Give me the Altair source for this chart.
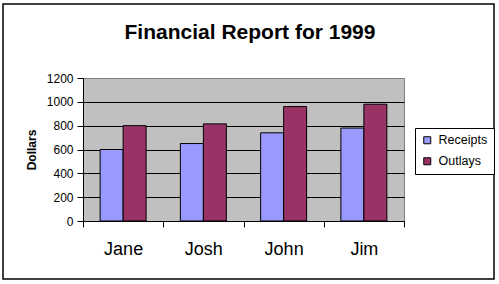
import altair as alt
import pandas as pd

title_text = ["Financial Report for 1999"]
names = ["Jane", "Josh", "John", "Jim"]
receipts = [600, 650, 740, 780]
outlays = [800, 815, 960, 980]
series = ["Receipts", "Outlays"]
colors = ["#9999FF", "#993366"]
y_ticks = [0, 200, 400, 600, 800, 1000, 1200]

rows = []
for n, r, o in zip(names, receipts, outlays):
    rows.append({"Name": n, "Series": "Receipts", "Value": r})
    rows.append({"Name": n, "Series": "Outlays", "Value": o})
df = pd.DataFrame(rows)

FONT = "Liberation Sans"
W, H = 321, 143

bars = alt.Chart(df).mark_bar(stroke="black", strokeWidth=1).encode(
    x=alt.X("Name:N", sort=names,
            scale=alt.Scale(paddingInner=0, paddingOuter=0),
            axis=alt.Axis(title=None, labelAngle=0, labelFontSize=18, labelFont=FONT,
                          labelColor="black", tickBand="extent", tickColor="black",
                          tickSize=6, domainColor="black", labelPadding=13, grid=False)),
    xOffset=alt.XOffset("Series:N", sort=series,
                        scale=alt.Scale(paddingInner=0, paddingOuter=0.745)),
    y=alt.Y("Value:Q",
            scale=alt.Scale(domain=[0, 1200], nice=False),
            axis=alt.Axis(title="Dollars", values=y_ticks, format="d",
                          labelFontSize=12, labelFont=FONT,
                          labelColor="black", titleFont=FONT, titleFontSize=12,
                          titleFontWeight="bold", titleColor="black", titlePadding=8,
                          tickColor="black", tickSize=6, labelPadding=4,
                          domainColor="black",
                          grid=True,
                          gridColor=alt.condition("datum.value == 1200", alt.value("#808080"), alt.value("black")),
                          gridOpacity=1)),
    color=alt.Color("Series:N", sort=series,
                    scale=alt.Scale(domain=series, range=colors),
                    legend=alt.Legend(title=None, orient="none", legendX=332, legendY=50,
                                      strokeColor="black", fillColor="white", padding=6,
                                      symbolType="square", symbolSize=49,
                                      symbolStrokeColor="black", symbolStrokeWidth=1,
                                      symbolOpacity=1,
                                      labelFont=FONT, labelFontSize=12.5, labelColor="black",
                                      rowPadding=8, labelOffset=5)),
)

border = alt.Chart(pd.DataFrame({"a": [0]})).mark_rect(
    fill=None, stroke="black", strokeWidth=1.5, clip=False
).encode(
    x=alt.value(-80), x2=alt.value(411), y=alt.value(-74), y2=alt.value(201)
)

title = alt.Chart(pd.DataFrame({"t": title_text})).mark_text(
    font=FONT, fontSize=21, fontWeight="bold", color="black",
    align="center", baseline="alphabetic", clip=False
).encode(
    text="t:N", x=alt.value(167), y=alt.value(-39)
)

chart = alt.layer(bars, border, title).properties(
    width=W, height=H,
    autosize=alt.AutoSizeParams(type="none"),
    padding={"left": 83, "top": 78, "right": 95, "bottom": 63},
    background="white",
).configure_view(
    fill="#C0C0C0", stroke="#808080", strokeWidth=1
)

chart.save("out.html", embed_options={"renderer": "svg", "actions": False})
